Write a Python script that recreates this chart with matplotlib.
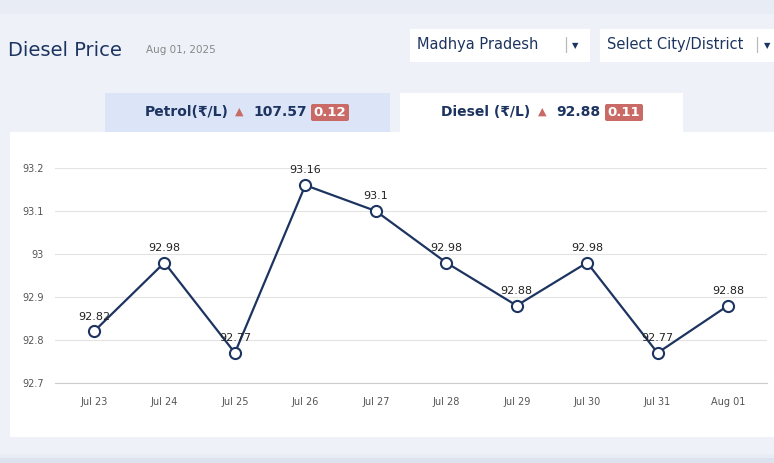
import matplotlib.pyplot as plt
from matplotlib.patches import Rectangle, FancyBboxPatch

# Data
dates = ["Jul 23", "Jul 24", "Jul 25", "Jul 26", "Jul 27", "Jul 28", "Jul 29", "Jul 30", "Jul 31", "Aug 01"]
prices = [92.82, 92.98, 92.77, 93.16, 93.1, 92.98, 92.88, 92.98, 92.77, 92.88]
yticks = [92.7, 92.8, 92.9, 93, 93.1, 93.2]

W, H = 774, 463
BG = "#e8edf5"
NAVY = "#1d3461"
RED = "#c96a67"

fig = plt.figure(figsize=(W / 100, H / 100), dpi=100, facecolor=BG)

# pixel-based overlay for the page furniture
page = fig.add_axes([0, 0, 1, 1])
page.set_xlim(0, W)
page.set_ylim(H, 0)
page.axis("off")

def box(x, y, w, h, color, z=0):
    page.add_patch(Rectangle((x, y), w, h, facecolor=color, edgecolor="none", zorder=z))

box(0, 14, W, 440, "#eef2f8")
box(10, 132, 764, 305, "white")
box(105, 93, 285, 39, "#dbe5f7")
box(400, 93, 283, 39, "white")
box(410, 29, 180, 33, "white")
box(600, 29, 174, 33, "white")
box(0, 458, W, 5, "#dde3ee")

page.text(8, 50, "Diesel Price", fontsize=14, color=NAVY, va="center")
page.text(146, 50, "Aug 01, 2025", fontsize=7.5, color="#888888", va="center")
page.text(417, 45, "Madhya Pradesh", fontsize=10.5, color=NAVY, va="center")
page.text(563, 45, "|", fontsize=11, color="#bbbbbb", va="center")
page.text(572, 46, "▼", fontsize=6, color=NAVY, va="center")
page.text(607, 45, "Select City/District", fontsize=10.5, color=NAVY, va="center")
page.text(754, 45, "|", fontsize=11, color="#bbbbbb", va="center")
page.text(764, 46, "▼", fontsize=6, color=NAVY, va="center")

def tab(x, label, tri_x, value, val_x, change, bx):
    page.text(x, 112, label, fontsize=10, color=NAVY, weight="bold", va="center")
    page.text(tri_x, 112, "▲", fontsize=8, color=RED, va="center")
    page.text(val_x, 112, value, fontsize=10, color=NAVY, weight="bold", va="center")
    page.add_patch(FancyBboxPatch((bx, 104), 38, 17, boxstyle="round,pad=0,rounding_size=2",
                                  facecolor=RED, edgecolor="none"))
    page.text(bx + 19, 112.5, change, fontsize=9.5, color="white", weight="bold",
              ha="center", va="center")

tab(145, "Petrol(₹/L)", 235, "107.57", 253, "0.12", 311)
tab(441, "Diesel (₹/L)", 538, "92.88", 556, "0.11", 605)

# Chart axes
x0, x1, y_top, y_bot = 55, 767, 168, 383
spacing = (728 - 94) / 9
ax = fig.add_axes([x0 / W, 1 - y_bot / H, (x1 - x0) / W, (y_bot - y_top) / H])
ax.set_facecolor("white")
ax.set_xlim(-(94 - x0) / spacing, 9 + (x1 - 728) / spacing)
ax.set_ylim(92.7, 93.2)
xs = list(range(len(dates)))
ax.plot(xs, prices, color=NAVY, lw=1.6, marker="o", ms=8, mfc="white", mec=NAVY, mew=1.5, zorder=3)
for x, p in zip(xs, prices):
    ax.annotate(f"{p:g}", (x, p), xytext=(0, 7), textcoords="offset points",
                ha="center", va="bottom", fontsize=8, color="#222222", zorder=4)
ax.set_xticks(xs)
ax.set_xticklabels(dates)
ax.set_yticks(yticks)
ax.set_yticklabels([f"{v:g}" for v in yticks])
ax.tick_params(length=0, labelsize=7, colors="#555555", pad=10)
ax.tick_params(axis="y", pad=8)
ax.grid(axis="y", color="#e3e3e3", lw=0.8)
for s in ax.spines.values():
    s.set_visible(False)
ax.spines["bottom"].set_visible(True)
ax.spines["bottom"].set_color("#cccccc")

fig.savefig("out.png", dpi=100, facecolor=BG)
